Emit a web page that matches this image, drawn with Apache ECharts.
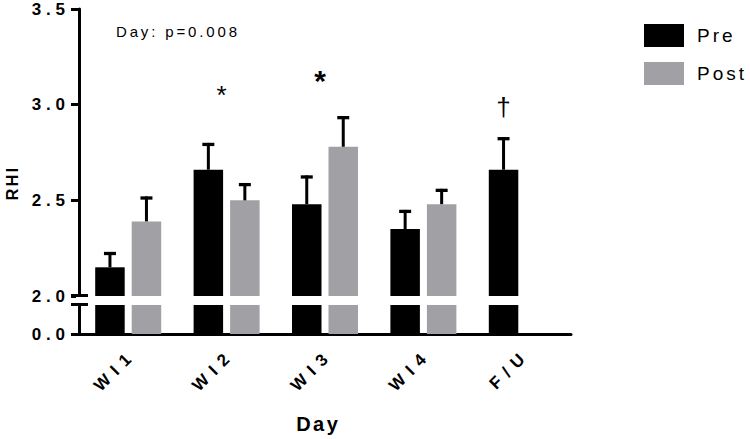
<!DOCTYPE html>
<html>
<head>
<meta charset="utf-8">
<script src="https://cdn.jsdelivr.net/npm/echarts@6/dist/echarts.min.js"></script>
<style>
  html, body { margin: 0; padding: 0; background: #fff; }
  #main { width: 750px; height: 439px; }
</style>
</head>
<body>
<div id="main"></div>
<script>
// ---- data ----
const categories = ['WI1', 'WI2', 'WI3', 'WI4', 'F/U'];
const preMean  = [2.15, 2.66, 2.48, 2.35, 2.66];
const preSEM   = [0.08, 0.14, 0.15, 0.10, 0.17];
const postMean = [2.39, 2.50, 2.78, 2.48, null];
const postSEM  = [0.13, 0.09, 0.16, 0.08, null];
const yTicksTop = [2.0, 2.5, 3.0, 3.5];
const yTicksBottom = [0.0];
const statText = 'Day: p=0.008';
// annotations: [category, value, text, which bar ('group' | 'pre'), font size, weight]
const annotations = [
  ['WI2', 3.05, '*', 'group', 26, 'normal'],
  ['WI3', 3.125, '*', 'group', 30, 'bold'],
  ['F/U', 2.99, '†', 'pre', 26, 'normal']
];

// ---- style ----
const FONT = '"Liberation Sans", Arial, Helvetica, sans-serif';
const PRE_COLOR = '#000000';
const POST_COLOR = '#a1a0a5';
const BAR_W = 29.5;
const BAR_GAP_PX = 7;
const HALF_OFF = (BAR_W + BAR_GAP_PX) / 2;

const chart = echarts.init(document.getElementById('main'), null, { renderer: 'svg' });

function errorBar(offset) {
  return function (params, api) {
    const mean = api.value(1);
    const sem = api.value(2);
    if (mean == null || isNaN(mean)) return null;
    const base = api.coord([api.value(0), mean]);
    const top = api.coord([api.value(0), mean + sem]);
    const x = base[0] + offset;
    const capHalf = 6;
    return {
      type: 'group',
      children: [
        { type: 'line', shape: { x1: x, y1: base[1], x2: x, y2: top[1] },
          style: { stroke: '#000', lineWidth: 3 } },
        { type: 'line', shape: { x1: x - capHalf, y1: top[1] + 1.5, x2: x + capHalf, y2: top[1] + 1.5 },
          style: { stroke: '#000', lineWidth: 3.3 } }
      ]
    };
  };
}

const axisLineStyle = { color: '#000', width: 3 };
const tickLabelFmt = v => Number(v).toFixed(1);

const option = {
  animation: false,
  backgroundColor: '#fff',
  textStyle: { fontFamily: FONT, color: '#000' },
  legend: {
    orient: 'vertical', left: 639, top: 19,
    itemWidth: 40, itemHeight: 23, itemGap: 15, icon: 'rect',
    data: ['Pre', 'Post'],
    textStyle: { fontSize: 19, color: '#000', fontFamily: FONT, padding: [0, 0, 0, 8] }
  },
  grid: [
    { left: 79, right: 179, top: 9, height: 287 },
    { left: 79, right: 179, top: 305, height: 29 }
  ],
  xAxis: [
    { gridIndex: 0, type: 'category', data: categories, show: false },
    { gridIndex: 1, type: 'category', data: categories,
      axisLine: { lineStyle: axisLineStyle },
      axisTick: { alignWithLabel: true, length: 8, lineStyle: { width: 3, color: '#000' } },
      axisLabel: { rotate: 45, margin: 23, fontSize: 17, fontWeight: 'bold', color: '#000', fontFamily: FONT },
      name: 'Day', nameLocation: 'middle', nameGap: 80,
      nameTextStyle: { fontSize: 20, fontWeight: 'bold', color: '#000', fontFamily: FONT, padding: [0, 16, 0, 0] }
    }
  ],
  yAxis: [
    { gridIndex: 0, type: 'value', min: yTicksTop[0], max: yTicksTop[yTicksTop.length - 1], interval: 0.5,
      axisLine: { show: true, lineStyle: axisLineStyle },
      axisTick: { show: true, length: 8, lineStyle: { width: 3, color: '#000' } },
      axisLabel: { margin: 14, fontSize: 17, fontWeight: 'bold', color: '#000', fontFamily: FONT, formatter: tickLabelFmt },
      splitLine: { show: false }
    },
    { gridIndex: 1, type: 'value', min: yTicksBottom[0], max: 1, interval: 1,
      axisLine: { show: true, lineStyle: axisLineStyle },
      axisTick: { show: true, length: 8, lineStyle: { width: 3, color: '#000' } },
      axisLabel: { margin: 14, fontSize: 17, fontWeight: 'bold', color: '#000', fontFamily: FONT,
                   formatter: tickLabelFmt, showMaxLabel: false },
      splitLine: { show: false }
    }
  ],
  series: [
    { name: 'Pre', type: 'bar', xAxisIndex: 0, yAxisIndex: 0, data: preMean,
      barWidth: BAR_W, barGap: (BAR_GAP_PX / BAR_W * 100) + '%', itemStyle: { color: PRE_COLOR } },
    { name: 'Post', type: 'bar', xAxisIndex: 0, yAxisIndex: 0, data: postMean,
      barWidth: BAR_W, barGap: (BAR_GAP_PX / BAR_W * 100) + '%', itemStyle: { color: POST_COLOR } },
    { name: 'Pre', type: 'bar', xAxisIndex: 1, yAxisIndex: 1, data: preMean, clip: true,
      barWidth: BAR_W, barGap: (BAR_GAP_PX / BAR_W * 100) + '%', itemStyle: { color: PRE_COLOR } },
    { name: 'Post', type: 'bar', xAxisIndex: 1, yAxisIndex: 1, data: postMean, clip: true,
      barWidth: BAR_W, barGap: (BAR_GAP_PX / BAR_W * 100) + '%', itemStyle: { color: POST_COLOR } },
    { name: 'Pre SEM', type: 'custom', xAxisIndex: 0, yAxisIndex: 0, z: 5,
      renderItem: errorBar(-HALF_OFF),
      data: categories.map((c, i) => [i, preMean[i], preSEM[i]]) },
    { name: 'Post SEM', type: 'custom', xAxisIndex: 0, yAxisIndex: 0, z: 5,
      renderItem: errorBar(HALF_OFF),
      data: categories.map((c, i) => [i, postMean[i], postSEM[i]]).filter(d => d[1] != null) }
  ]
};

// letter spacing (em) used by the original's typography
const tickLabelTexts = yTicksTop.concat(yTicksBottom).map(tickLabelFmt);
function spacingFor(s) {
  if (tickLabelTexts.indexOf(s) >= 0) return 0.28;
  if (categories.indexOf(s) >= 0) return 0.42;
  if (s === 'Pre' || s === 'Post') return 0.16;
  if (s === 'Day') return 0.12;
  if (s === statText) return 0.19;
  if (s === 'RHI') return 0.15;
  return 0;
}
function applySpacing() {
  document.querySelectorAll('#main svg text').forEach(t => {
    const s = (t.textContent || '').trim();
    const em = spacingFor(s);
    if (!em) return;
    const fs = parseFloat(getComputedStyle(t).fontSize) || 16;
    const px = em * fs;
    t.style.letterSpacing = px + 'px';
    const anchor = t.getAttribute('text-anchor');
    const dx = anchor === 'end' ? px : (anchor === 'middle' ? px / 2 : 0);
    t.setAttribute('dx', dx);
  });
}
chart.on('finished', applySpacing);
chart.setOption(option);

// decorations: axis-break marks, y-axis title, stat text, significance marks
const yTop = chart.convertToPixel({ yAxisIndex: 0 }, yTicksTop[0]);
const yBot = chart.convertToPixel({ yAxisIndex: 1 }, 1);
const axisX = chart.convertToPixel({ xAxisIndex: 1 }, 0) - 49.2;
const graphics = [
  { type: 'line', shape: { x1: axisX - 8, y1: yTop - 0.5, x2: axisX + 9, y2: yTop - 0.5 },
    style: { stroke: '#000', lineWidth: 3 }, z: 10 },
  { type: 'rect', shape: { x: axisX - 3, y: yTop + 1, width: 6, height: yBot - yTop - 2 },
    style: { fill: '#fff' }, z: 9 },
  { type: 'line', shape: { x1: axisX - 8, y1: yBot - 0.5, x2: axisX + 9, y2: yBot - 0.5 },
    style: { stroke: '#000', lineWidth: 3 }, z: 10 },
  { type: 'text', x: 12, y: 184, rotation: Math.PI / 2,
    style: { text: 'RHI', fontSize: 16, fontWeight: 'bold', fill: '#000', fontFamily: FONT,
             align: 'center', verticalAlign: 'middle' } },
  { type: 'text', x: 116, y: 31,
    style: { text: statText, fontSize: 15, fill: '#000', fontFamily: FONT,
             align: 'left', verticalAlign: 'middle' } }
];
annotations.forEach(([cat, val, txt, where, size, weight]) => {
  const p = chart.convertToPixel({ xAxisIndex: 0, yAxisIndex: 0 }, [cat, val]);
  const x = where === 'pre' ? p[0] - HALF_OFF : p[0] - 5;
  graphics.push({ type: 'text', x: x, y: p[1],
    style: { text: txt, fontSize: size, fontWeight: weight, fill: '#000', fontFamily: FONT,
             align: 'center', verticalAlign: 'middle' } });
});
chart.setOption({ graphic: graphics });
applySpacing();
setTimeout(applySpacing, 0);
setTimeout(applySpacing, 100);
</script>
</body>
</html>
